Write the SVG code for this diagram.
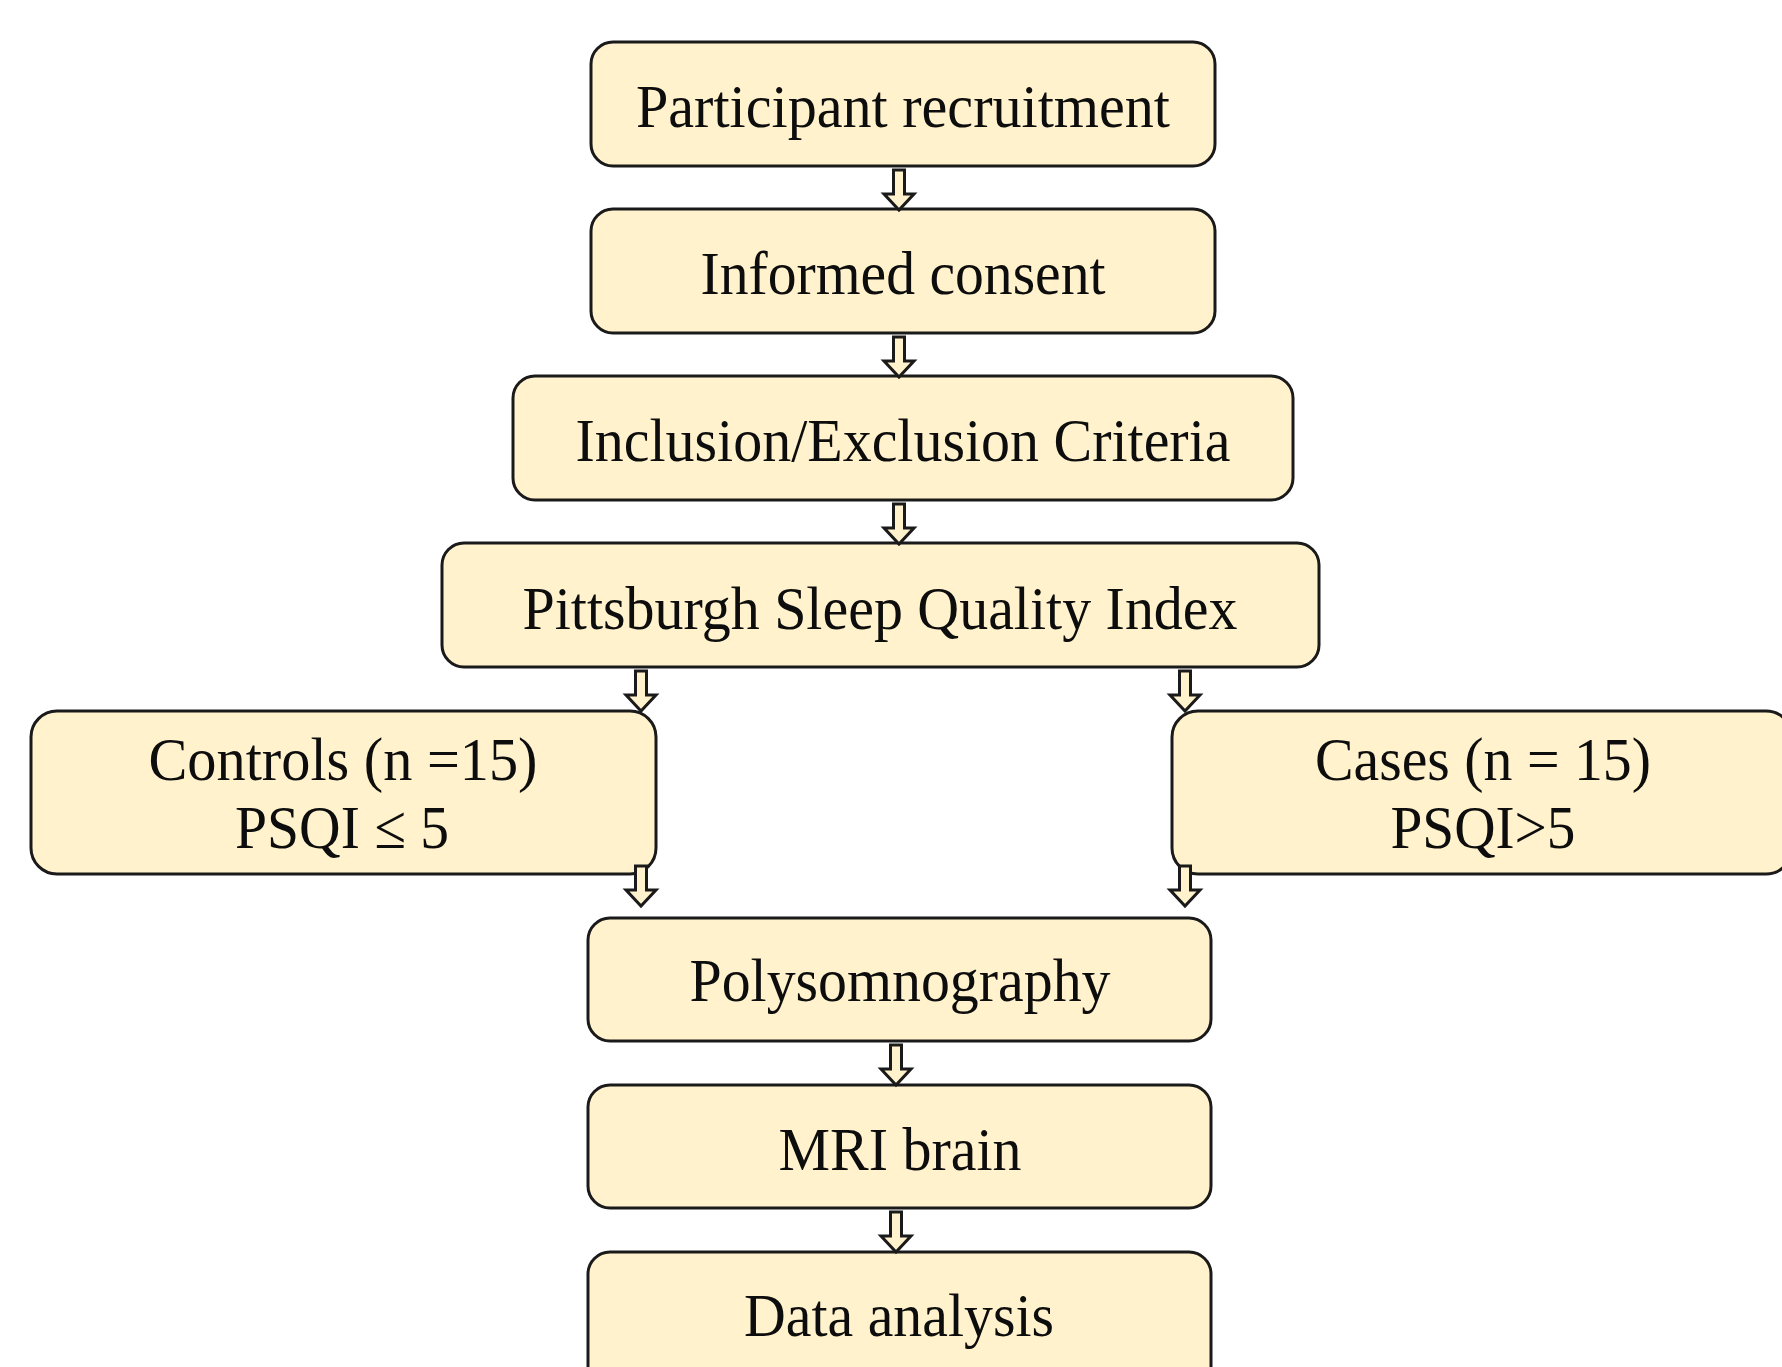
<svg xmlns="http://www.w3.org/2000/svg" width="1782" height="1367" viewBox="0 0 1782 1367">
<style>
.box{fill:#FFF2CC;stroke:#1a1a1a;stroke-width:3}
.t{font-family:"Liberation Serif","Times New Roman",serif;font-size:62px;fill:#0d0d0d;text-anchor:middle}
.arr{fill:#FFF2CC;stroke:#1a1a1a;stroke-width:3;stroke-linejoin:miter}
</style>
<defs>
<path id="ar" d="M-5.5,0 H5.5 V24 H15 L0,40 L-15,24 H-5.5 Z"/>
</defs>
<rect width="1782" height="1367" fill="#fff"/>
<g id="recruitment">
<rect class="box" x="591" y="42" width="624" height="124" rx="22"/>
<text class="t" x="903" y="127" textLength="534" lengthAdjust="spacingAndGlyphs">Participant recruitment</text>
</g>
<g id="consent">
<rect class="box" x="591" y="209" width="624" height="124" rx="22"/>
<text class="t" x="903" y="294" textLength="405" lengthAdjust="spacingAndGlyphs">Informed consent</text>
</g>
<g id="criteria">
<rect class="box" x="513" y="376" width="780" height="124" rx="22"/>
<text class="t" x="903" y="461" textLength="655" lengthAdjust="spacingAndGlyphs">Inclusion/Exclusion Criteria</text>
</g>
<g id="psqi">
<rect class="box" x="442" y="543" width="877" height="124" rx="22"/>
<text class="t" x="880" y="629" textLength="715" lengthAdjust="spacingAndGlyphs">Pittsburgh Sleep Quality Index</text>
</g>
<g id="controls">
<rect class="box" x="31" y="711" width="625" height="163" rx="26"/>
<text class="t" x="343" y="780" textLength="389" lengthAdjust="spacingAndGlyphs">Controls (n =15)</text>
<text class="t" x="342" y="848" textLength="214" lengthAdjust="spacingAndGlyphs">PSQI ≤ 5</text>
</g>
<g id="cases">
<rect class="box" x="1172" y="711" width="620" height="163" rx="26"/>
<text class="t" x="1483" y="780" textLength="336" lengthAdjust="spacingAndGlyphs">Cases (n = 15)</text>
<text class="t" x="1483" y="848" textLength="185" lengthAdjust="spacingAndGlyphs">PSQI&gt;5</text>
</g>
<g id="polysomnography">
<rect class="box" x="588" y="918" width="623" height="123" rx="22"/>
<text class="t" x="900" y="1001" textLength="421" lengthAdjust="spacingAndGlyphs">Polysomnography</text>
</g>
<g id="mri">
<rect class="box" x="588" y="1085" width="623" height="123" rx="22"/>
<text class="t" x="900" y="1170" textLength="243" lengthAdjust="spacingAndGlyphs">MRI brain</text>
</g>
<g id="analysis">
<rect class="box" x="588" y="1252" width="623" height="140" rx="22"/>
<text class="t" x="899" y="1336" textLength="310" lengthAdjust="spacingAndGlyphs">Data analysis</text>
</g>
<g id="connectors">
<use href="#ar" class="arr" x="899" y="170"/>
<use href="#ar" class="arr" x="899" y="337"/>
<use href="#ar" class="arr" x="899" y="504"/>
<use href="#ar" class="arr" x="641" y="671"/>
<use href="#ar" class="arr" x="1185" y="671"/>
<use href="#ar" class="arr" x="641" y="866"/>
<use href="#ar" class="arr" x="1185" y="866"/>
<use href="#ar" class="arr" x="896" y="1045"/>
<use href="#ar" class="arr" x="896" y="1212"/>
</g>
</svg>
